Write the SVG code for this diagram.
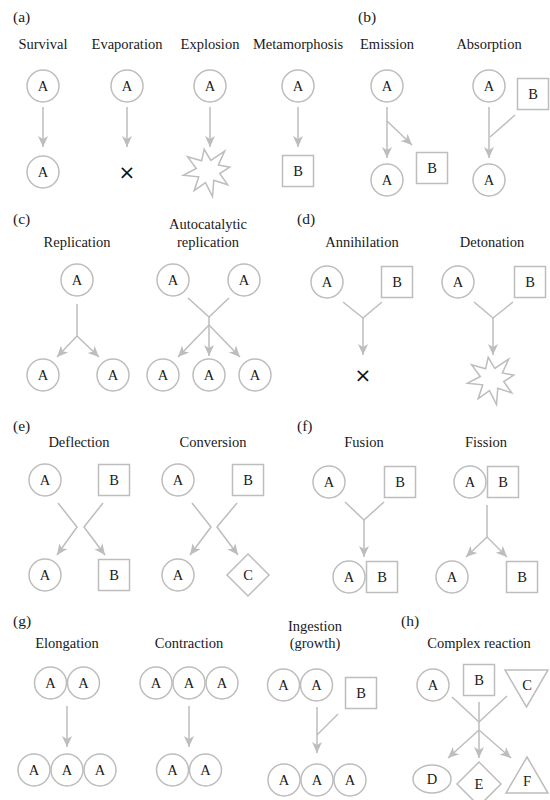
<svg xmlns="http://www.w3.org/2000/svg" width="550" height="800" viewBox="0 0 550 800">
<style>
.n{fill:#fff;stroke:#bdbdbd;stroke-width:1.5}
.c{fill:none;stroke:#bdbdbd;stroke-width:1.5;stroke-linejoin:round}
.a{marker-end:url(#ah)}
text{font-family:"Liberation Serif","DejaVu Serif",serif;font-size:14.5px;fill:#1a1a1a;text-anchor:middle}
text.p{text-anchor:start;font-size:15.5px}
text.x{font-family:"DejaVu Sans",sans-serif;font-size:20px;fill:#111}
</style>
<defs>
<marker id="ah" markerUnits="userSpaceOnUse" markerWidth="12" markerHeight="12" viewBox="0 -6 12 12" refX="11" refY="0" orient="auto">
<path d="M0,-5 L11,0 L0,5 L3,0 Z" fill="#bdbdbd"/>
</marker>
<polygon id="star" points="-20.5,-14.3 -6.4,-10.2 -3.8,-21.7 2.8,-10.6 16.7,-19.9 10.4,-6 21.7,-3.8 11.7,2.5 19.7,13.8 5.8,9.3 4.5,25.6 -2.5,11.7 -13.8,19.7 -9.3,5.8 -24.6,4.3 -11.7,-2.5"/>
</defs>
<rect width="550" height="800" fill="#fff"/>
<g id="labels">
<text class="p" x="13" y="22">(a)</text>
<text x="43" y="49">Survival</text>
<text x="127" y="49">Evaporation</text>
<text x="210" y="49">Explosion</text>
<text x="298" y="49">Metamorphosis</text>
<text class="p" x="358" y="22">(b)</text>
<text x="387" y="49">Emission</text>
<text x="489" y="49">Absorption</text>
<text class="p" x="13" y="224">(c)</text>
<text x="77" y="247">Replication</text>
<text x="208" y="229">Autocatalytic</text>
<text x="208" y="247">replication</text>
<text class="p" x="297" y="224">(d)</text>
<text x="362" y="247">Annihilation</text>
<text x="492" y="247">Detonation</text>
<text class="p" x="13" y="431">(e)</text>
<text x="79" y="447">Deflection</text>
<text x="213" y="447">Conversion</text>
<text class="p" x="297" y="431">(f)</text>
<text x="364" y="447">Fusion</text>
<text x="486" y="447">Fission</text>
<text class="p" x="13" y="626">(g)</text>
<text x="67" y="648">Elongation</text>
<text x="189" y="648">Contraction</text>
<text x="315" y="631">Ingestion</text>
<text x="315" y="648">(growth)</text>
<text class="p" x="401" y="626">(h)</text>
<text x="479" y="648">Complex reaction</text>
</g>

<g id="connectors">
<path class="c a" d="M43,107 V147"/>
<path class="c a" d="M127,107 V147"/>
<path class="c a" d="M210,107 V147"/>
<path class="c a" d="M298,107 V147"/>
<path class="c a" d="M387,107 V158"/>
<path class="c a" d="M387,121 L412,145"/>
<path class="c a" d="M489,107 V158"/>
<path class="c" d="M515,115 L490,137"/>
<path class="c" d="M77,304 V336"/>
<path class="c a" d="M77,336 L57,357"/>
<path class="c a" d="M77,336 L99,357"/>
<path class="c" d="M188,298 L209,317 L229,298"/>
<path class="c a" d="M209,317 V356"/>
<path class="c a" d="M209,325 L178,357"/>
<path class="c a" d="M209,325 L240,357"/>
<path class="c" d="M343,302 L363,318 L382,302"/>
<path class="c a" d="M363,318 V355"/>
<path class="c" d="M474,302 L493,318 L513,302"/>
<path class="c a" d="M493,318 V355"/>
<path class="c a" d="M58,503 L77,527 L57,555"/>
<path class="c a" d="M103,503 L84,527 L105,555"/>
<path class="c a" d="M192,503 L211,527 L190,555"/>
<path class="c a" d="M237,503 L217,527 L238,555"/>
<path class="c" d="M345,502 L364,520 L384,502"/>
<path class="c a" d="M364,520 V557"/>
<path class="c" d="M487,505 V537"/>
<path class="c a" d="M487,537 L466,557"/>
<path class="c a" d="M487,537 L507,557"/>
<path class="c a" d="M67,706 V747"/>
<path class="c a" d="M189,706 V747"/>
<path class="c a" d="M317,707 V753"/>
<path class="c" d="M338,714 L317,735"/>
<path class="c" d="M452,697 L479,722 L507,696"/>
<path class="c a" d="M479,702 V758"/>
<path class="c a" d="M479,730 L448,758"/>
<path class="c a" d="M479,730 L511,758"/>
</g>

<g id="a_surv_top"><circle class="n" cx="43" cy="86" r="16"/><text x="43" y="91">A</text></g>
<g id="a_surv_bot"><circle class="n" cx="43" cy="172" r="16"/><text x="43" y="177">A</text></g>
<g id="a_evap_top"><circle class="n" cx="127" cy="86" r="16"/><text x="127" y="91">A</text></g>
<g id="a_evap_x"><text class="x" x="127" y="179">×</text></g>
<g id="a_expl_top"><circle class="n" cx="210" cy="86" r="16"/><text x="210" y="91">A</text></g>
<g id="a_expl_star"><use href="#star" class="n" transform="translate(208,171)"/></g>
<g id="a_meta_top"><circle class="n" cx="298" cy="86" r="16"/><text x="298" y="91">A</text></g>
<g id="a_meta_B"><rect class="n" x="282.5" y="155.5" width="31" height="31"/><text x="298" y="176">B</text></g>

<g id="b_emis_top"><circle class="n" cx="387" cy="86" r="16"/><text x="387" y="91">A</text></g>
<g id="b_emis_A"><circle class="n" cx="387" cy="180" r="16"/><text x="387" y="185">A</text></g>
<g id="b_emis_B"><rect class="n" x="416.5" y="152.5" width="31" height="31"/><text x="432" y="173">B</text></g>
<g id="b_abs_top"><circle class="n" cx="489" cy="86" r="16"/><text x="489" y="91">A</text></g>
<g id="b_abs_B"><rect class="n" x="517.5" y="78.5" width="31" height="31"/><text x="533" y="99">B</text></g>
<g id="b_abs_A"><circle class="n" cx="489" cy="180" r="16"/><text x="489" y="185">A</text></g>

<g id="c_rep_top"><circle class="n" cx="77" cy="280" r="16"/><text x="77" y="285">A</text></g>
<g id="c_rep_l"><circle class="n" cx="43" cy="375" r="16"/><text x="43" y="380">A</text></g>
<g id="c_rep_r"><circle class="n" cx="113" cy="375" r="16"/><text x="113" y="380">A</text></g>
<g id="c_auto_t1"><circle class="n" cx="173" cy="280" r="16"/><text x="173" y="285">A</text></g>
<g id="c_auto_t2"><circle class="n" cx="244" cy="280" r="16"/><text x="244" y="285">A</text></g>
<g id="c_auto_b1"><circle class="n" cx="163" cy="375" r="16"/><text x="163" y="380">A</text></g>
<g id="c_auto_b2"><circle class="n" cx="209" cy="375" r="16"/><text x="209" y="380">A</text></g>
<g id="c_auto_b3"><circle class="n" cx="255" cy="375" r="16"/><text x="255" y="380">A</text></g>

<g id="d_ann_A"><circle class="n" cx="327" cy="282" r="16"/><text x="327" y="287">A</text></g>
<g id="d_ann_B"><rect class="n" x="381.5" y="266.5" width="31" height="31"/><text x="397" y="287">B</text></g>
<g id="d_ann_x"><text class="x" x="363" y="382">×</text></g>
<g id="d_det_A"><circle class="n" cx="458" cy="282" r="16"/><text x="458" y="287">A</text></g>
<g id="d_det_B"><rect class="n" x="514.5" y="266.5" width="31" height="31"/><text x="530" y="287">B</text></g>
<g id="d_det_star"><use href="#star" class="n" transform="translate(492,379)"/></g>

<g id="e_def_A"><circle class="n" cx="45" cy="480" r="16"/><text x="45" y="485">A</text></g>
<g id="e_def_B"><rect class="n" x="98.5" y="464.5" width="31" height="31"/><text x="114" y="485">B</text></g>
<g id="e_def_A2"><circle class="n" cx="45" cy="575" r="16"/><text x="45" y="580">A</text></g>
<g id="e_def_B2"><rect class="n" x="98.5" y="559.5" width="31" height="31"/><text x="114" y="580">B</text></g>
<g id="e_con_A"><circle class="n" cx="178" cy="480" r="16"/><text x="178" y="485">A</text></g>
<g id="e_con_B"><rect class="n" x="232.5" y="464.5" width="31" height="31"/><text x="248" y="485">B</text></g>
<g id="e_con_A2"><circle class="n" cx="178" cy="575" r="16"/><text x="178" y="580">A</text></g>
<g id="e_con_C"><polygon class="n" points="248,554 269,575 248,596 227,575"/><text x="248" y="580">C</text></g>

<g id="f_fus_A"><circle class="n" cx="329" cy="482" r="16"/><text x="329" y="487">A</text></g>
<g id="f_fus_B"><rect class="n" x="384.5" y="466.5" width="31" height="31"/><text x="400" y="487">B</text></g>
<g id="f_fus_AB"><circle class="n" cx="349" cy="577" r="16"/><text x="349" y="582">A</text><rect class="n" x="366.5" y="561.5" width="31" height="31"/><text x="382" y="582">B</text></g>
<g id="f_fis_AB"><circle class="n" cx="470" cy="482" r="16"/><text x="470" y="487">A</text><rect class="n" x="487.5" y="466.5" width="31" height="31"/><text x="503" y="487">B</text></g>
<g id="f_fis_A"><circle class="n" cx="452" cy="577" r="16"/><text x="452" y="582">A</text></g>
<g id="f_fis_B"><rect class="n" x="506.5" y="561.5" width="31" height="31"/><text x="522" y="582">B</text></g>

<g id="g_elo_top"><circle class="n" cx="50.5" cy="683" r="16"/><text x="50.5" y="688">A</text><circle class="n" cx="83.5" cy="683" r="16"/><text x="83.5" y="688">A</text></g>
<g id="g_elo_bot"><circle class="n" cx="34" cy="770" r="16"/><text x="34" y="775">A</text><circle class="n" cx="67" cy="770" r="16"/><text x="67" y="775">A</text><circle class="n" cx="100" cy="770" r="16"/><text x="100" y="775">A</text></g>
<g id="g_con_top"><circle class="n" cx="156" cy="683" r="16"/><text x="156" y="688">A</text><circle class="n" cx="189" cy="683" r="16"/><text x="189" y="688">A</text><circle class="n" cx="222" cy="683" r="16"/><text x="222" y="688">A</text></g>
<g id="g_con_bot"><circle class="n" cx="172.5" cy="770" r="16"/><text x="172.5" y="775">A</text><circle class="n" cx="205.5" cy="770" r="16"/><text x="205.5" y="775">A</text></g>
<g id="g_ing_top"><circle class="n" cx="283.5" cy="685" r="16"/><text x="283.5" y="690">A</text><circle class="n" cx="316.5" cy="685" r="16"/><text x="316.5" y="690">A</text></g>
<g id="g_ing_B"><rect class="n" x="345.5" y="677.5" width="31" height="31"/><text x="361" y="698">B</text></g>
<g id="g_ing_bot"><circle class="n" cx="284" cy="780" r="16"/><text x="284" y="785">A</text><circle class="n" cx="317" cy="780" r="16"/><text x="317" y="785">A</text><circle class="n" cx="350" cy="780" r="16"/><text x="350" y="785">A</text></g>

<g id="h_A"><circle class="n" cx="433" cy="685" r="16"/><text x="433" y="690">A</text></g>
<g id="h_B"><rect class="n" x="463.5" y="664.5" width="31" height="31"/><text x="479" y="685">B</text></g>
<g id="h_C"><polygon class="n" points="505,670 548,670 526.5,707"/><text x="527" y="690">C</text></g>
<g id="h_D"><ellipse class="n" cx="432" cy="779" rx="19" ry="14"/><text x="432" y="784">D</text></g>
<g id="h_E"><polygon class="n" points="479,762 501,784 479,806 457,784"/><text x="479" y="789">E</text></g>
<g id="h_F"><polygon class="n" points="527,757 548,793 506,793"/><text x="527" y="786">F</text></g>
</svg>
